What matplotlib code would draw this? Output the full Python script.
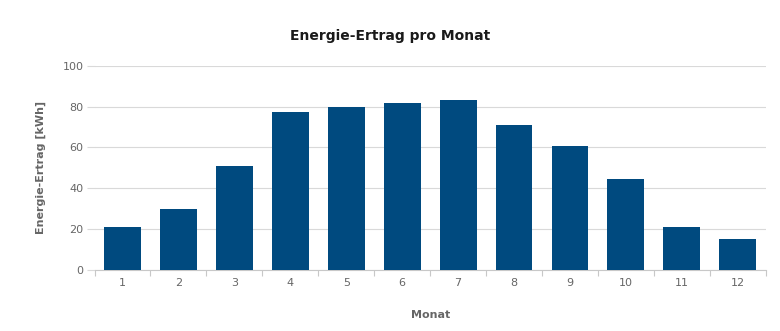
import numpy as np
import matplotlib.pyplot as plt

months = [1, 2, 3, 4, 5, 6, 7, 8, 9, 10, 11, 12]
ertrag_kwh = [21.0, 29.6, 50.9, 77.4, 79.7, 81.7, 83.3, 70.9, 60.8, 44.3, 21.0, 15.0]
y_ticks = [0, 20, 40, 60, 80, 100]

bar_color = "#004A7F"
grid_color = "#d9d9d9"
text_grey = "#666666"

fig = plt.figure(figsize=(7.8, 3.31), dpi=100)
ax = fig.add_axes([0.1212, 0.1858, 0.8605, 0.6148])

x = np.arange(len(months))
ax.bar(x, ertrag_kwh, width=0.66, color=bar_color, zorder=3)

ax.set_xlim(-0.5, len(months) - 0.5)
ax.set_ylim(0, 100)

# category labels in the middle, tick marks between bars
ax.set_xticks(x)
ax.set_xticklabels([str(m) for m in months])
ax.set_xticks(np.arange(-0.5, len(months)), minor=True)
ax.tick_params(axis="x", which="major", length=0, pad=6, labelsize=8, labelcolor=text_grey)
ax.tick_params(axis="x", which="minor", length=4, color="#c8c8c8", width=0.8)

ax.set_yticks(y_ticks)
ax.tick_params(axis="y", length=6, color=grid_color, width=0.8, pad=2,
               labelsize=8, labelcolor=text_grey)
ax.grid(axis="y", color=grid_color, linewidth=0.8, zorder=0)

for side in ["left", "right", "top"]:
    ax.spines[side].set_visible(False)
ax.spines["bottom"].set_color("#c8c8c8")
ax.spines["bottom"].set_linewidth(0.8)

# title centred on the whole figure
fig.text(0.5, 0.89, "Energie-Ertrag pro Monat", ha="center", va="center",
         fontsize=10, fontweight="bold", color="#1a1a1a")
ax.set_ylabel("Energie-Ertrag [kWh]", fontsize=8, fontweight="bold",
              color=text_grey, labelpad=12)
ax.set_xlabel("Monat", fontsize=8, fontweight="bold", color=text_grey, labelpad=16)

fig.savefig("out.png", dpi=100)
